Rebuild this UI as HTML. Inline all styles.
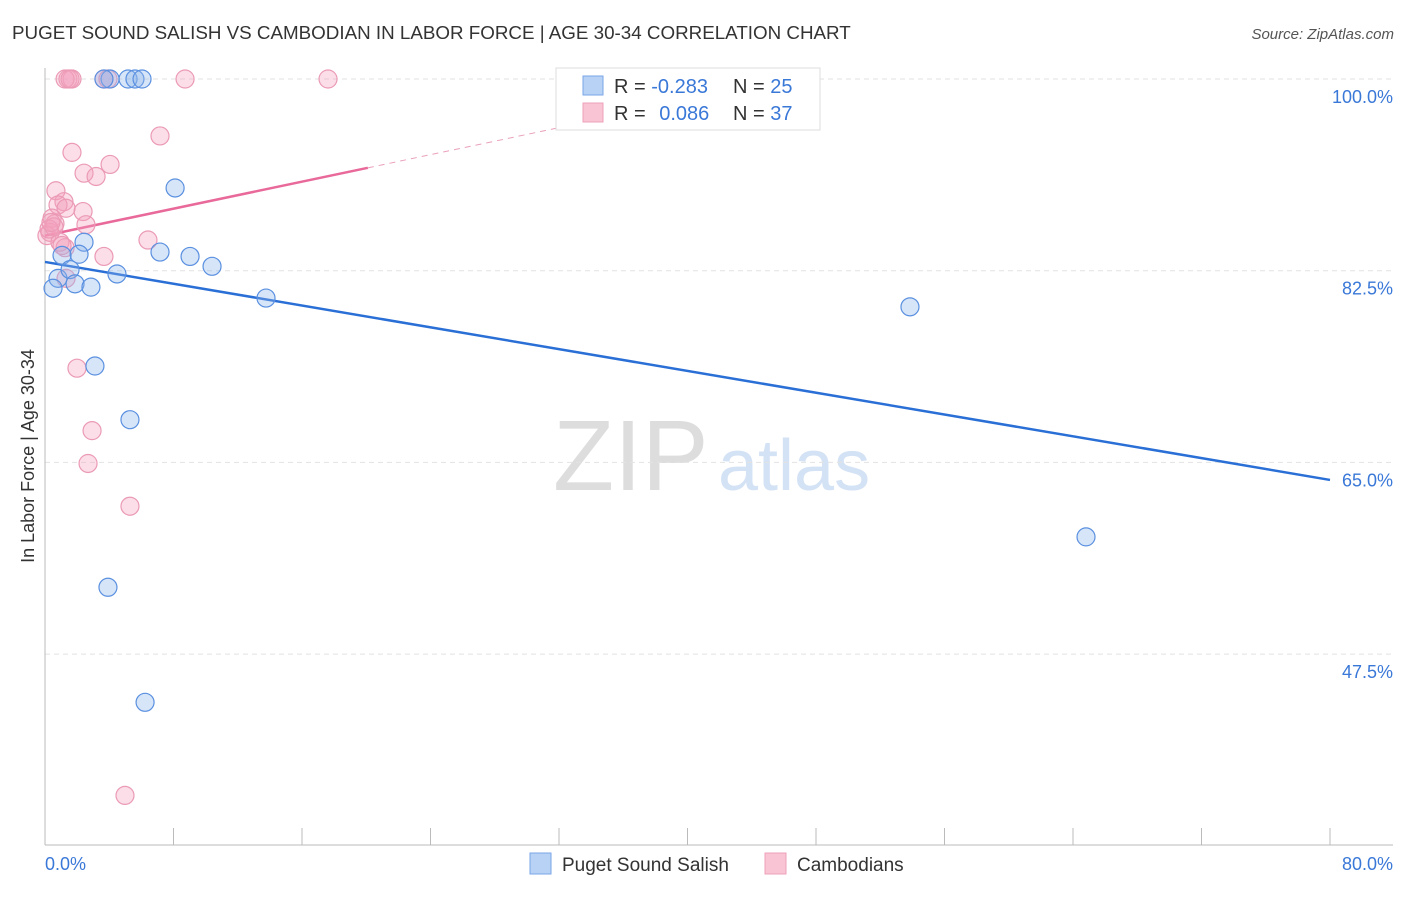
<!DOCTYPE html>
<html><head><meta charset="utf-8"><style>
body{margin:0;background:#fff;font-family:"Liberation Sans",sans-serif}
svg text{font-family:"Liberation Sans",sans-serif}
</style></head><body>
<svg width="1406" height="892" xmlns="http://www.w3.org/2000/svg">
<text x="12" y="39" font-size="18.8" fill="#333">PUGET SOUND SALISH VS CAMBODIAN IN LABOR FORCE | AGE 30-34 CORRELATION CHART</text>
<text x="1394" y="39" font-size="15" fill="#555" font-style="italic" text-anchor="end">Source: ZipAtlas.com</text>
<g>
<text x="553" y="490" font-size="100" fill="#ddd" font-family="Liberation Serif">ZIP</text>
<text x="718" y="490" font-size="72" fill="#d4e2f5">atlas</text>
</g>
<g id="grid"></g>
<line x1="45" y1="68" x2="45" y2="845" stroke="#bbb"/>
<line x1="45" y1="845" x2="1393" y2="845" stroke="#bbb"/>
<g id="xticks"></g>
<text x="45" y="870" font-size="18" fill="#3a78d8">0.0%</text>
<text x="1393" y="870" font-size="18" fill="#3a78d8" text-anchor="end">80.0%</text>
<text transform="translate(34,456) rotate(-90)" font-size="18" fill="#333" text-anchor="middle">In Labor Force | Age 30-34</text>
<g id="lines"></g>
<g id="points"></g>
<g>
<rect x="556" y="68" width="264" height="62" fill="#fff" stroke="#ddd"/>
<rect x="583" y="76" width="20" height="19" fill="#b8d2f5" stroke="#7aa6e6"/>
<rect x="583" y="103" width="20" height="19" fill="#f9c4d4" stroke="#eea0ba"/>
<text x="614" y="93" font-size="20" fill="#333">R = <tspan fill="#3a78d8">-0.283</tspan></text>
<text x="733" y="93" font-size="20" fill="#333">N = <tspan fill="#3a78d8">25</tspan></text>
<text x="614" y="120" font-size="20" fill="#333">R = <tspan fill="#3a78d8" dx="8">0.086</tspan></text>
<text x="733" y="120" font-size="20" fill="#333">N = <tspan fill="#3a78d8">37</tspan></text>
</g>
<g>
<rect x="530" y="853" width="21" height="21" fill="#b8d2f5" stroke="#7aa6e6"/>
<text x="562" y="871" font-size="19" fill="#333">Puget Sound Salish</text>
<rect x="765" y="853" width="21" height="21" fill="#f9c4d4" stroke="#eea0ba"/>
<text x="797" y="871" font-size="19" fill="#333">Cambodians</text>
</g>
</svg>
<script>
const yTicks=[100,82.5,65,47.5];
const yTickLabels=["100.0%","82.5%","65.0%","47.5%"];
const blueX=[4.05,5.17,5.6,6.04,8.1,2.43,2.12,1.06,0.81,1.56,0.5,1.87,2.86,4.48,7.16,9.03,10.4,13.76,3.11,5.29,3.92,6.23,53.85,64.81,3.67];
const blueY=[100,100,100,100,90.05,85.1,84.0,83.9,81.8,82.6,80.9,81.3,81.0,82.2,84.2,83.8,82.9,80.0,73.8,68.9,53.6,43.1,79.2,58.2,100];
const pinkX=[1.43,1.68,1.25,3.67,8.72,17.62,7.16,1.68,4.05,2.43,3.18,0.68,1.18,0.81,1.31,2.37,0.44,0.62,2.55,0.31,0.12,0.93,1.25,6.41,3.67,1.31,1.99,2.93,2.68,5.29,4.98,0.25,0.56,1.06,3.92,1.56,0.37];
const pinkY=[100,100,100,100,100,100,94.8,93.3,92.2,91.4,91.1,89.8,88.8,88.5,88.2,87.9,87.3,86.8,86.7,86.0,85.7,85.1,84.6,85.3,83.8,81.8,73.6,67.9,64.9,61.0,34.6,86.3,86.5,84.8,100,100,86.9];
const blueTrend=[83.3,63.4];
const pinkTrend=[85.7,0.308];
const NS="http://www.w3.org/2000/svg";
const sx=v=>45+v/80*1285;
const sy=v=>79+(100-v)*191.7/17.5;
function mk(t,a,p){const e=document.createElementNS(NS,t);for(const k in a)e.setAttribute(k,a[k]);document.getElementById(p).appendChild(e);return e;}
yTicks.forEach((t,i)=>{
 const l=mk('line',{x1:45,x2:1393,y1:sy(t),y2:sy(t),stroke:'#e2e2e2','stroke-dasharray':'5,4'},'grid');
 
 
 const tx=mk('text',{x:1393,y:sy(t)+24,'font-size':18,fill:'#3a78d8','text-anchor':'end'},'grid');
 tx.textContent=yTickLabels[i];
 
 
});
for(let i=0;i<=10;i++){
 const l=mk('line',{x1:sx(i*8),x2:sx(i*8),y1:828,y2:845,stroke:'#bbb'},'xticks');
 
 
}
let b=mk('line',{x1:sx(0),y1:sy(blueTrend[0]),x2:sx(80),y2:sy(blueTrend[1]),stroke:'#2a6fd6','stroke-width':2.5},'lines');


const pe=20.1, pd=(100-pinkTrend[0])/pinkTrend[1];
let p1=mk('line',{x1:sx(0),y1:sy(pinkTrend[0]),x2:sx(pe),y2:sy(pinkTrend[0]+pinkTrend[1]*pe),stroke:'#e8699a','stroke-width':2.5},'lines');


let p2=mk('line',{x1:sx(pe),y1:sy(pinkTrend[0]+pinkTrend[1]*pe),x2:sx(pd),y2:sy(100),stroke:'#eaa0bc','stroke-width':1,'stroke-dasharray':'6,5'},'lines');


pinkX.forEach((x,i)=>{
 const c=mk('circle',{cx:sx(x),cy:sy(pinkY[i]),r:9,fill:'rgba(244,160,188,0.35)',stroke:'#eb9ab6','stroke-width':1.2},'points');
 
 
});
blueX.forEach((x,i)=>{
 const c=mk('circle',{cx:sx(x),cy:sy(blueY[i]),r:9,fill:'rgba(140,180,235,0.35)',stroke:'#5a90e0','stroke-width':1.2},'points');
 
 
});
</script>
</body></html>
